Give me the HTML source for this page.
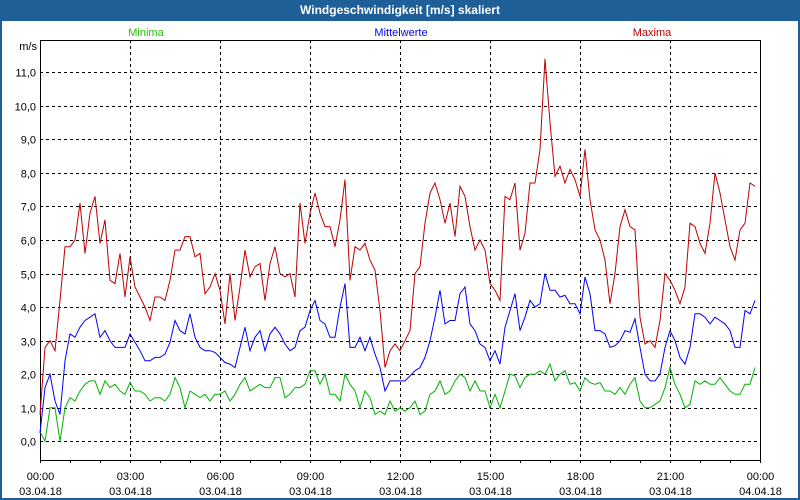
<!DOCTYPE html>
<html><head><meta charset="utf-8">
<style>
html,body{margin:0;padding:0;background:#fff;}
#wrap{position:relative;width:800px;height:500px;overflow:hidden;background:#fff;font-family:"Liberation Sans",sans-serif;}
#titlebar{position:absolute;left:0;top:0;width:800px;height:21px;background:#1f5f98;color:#fff;font-weight:bold;font-size:12px;line-height:21px;text-align:center;}
#frame{position:absolute;left:0;top:21px;width:796px;height:477px;border-left:2px solid #1f5f98;border-right:2px solid #1f5f98;border-bottom:2px solid #1f5f98;}
svg{position:absolute;left:0;top:0;}
</style></head><body>
<div id="wrap">
<div id="titlebar">Windgeschwindigkeit [m/s] skaliert</div>
<div id="frame"></div>
<svg id="chart" width="800" height="500"></svg>
</div>
<script>
const yTicks = [0,1,2,3,4,5,6,7,8,9,10,11];
const yTickLabels = ["0,0","1,0","2,0","3,0","4,0","5,0","6,0","7,0","8,0","9,0","10,0","11,0"];
const xTickHours = [0,3,6,9,12,15,18,21,24];
const xTickTimes = ["00:00","03:00","06:00","09:00","12:00","15:00","18:00","21:00","00:00"];
const xTickDates = ["03.04.18","03.04.18","03.04.18","03.04.18","03.04.18","03.04.18","03.04.18","03.04.18","04.04.18"];
const stepHours = 1/6;
const maxValues = [0.8,2.8,3.0,2.7,4.2,5.8,5.8,6.0,7.1,5.6,6.8,7.3,5.9,6.6,4.8,4.7,5.6,4.3,5.5,4.6,4.3,4.0,3.6,4.3,4.3,4.2,4.8,5.7,5.7,6.1,6.1,5.5,5.6,4.4,4.6,5.0,4.5,3.5,5.0,3.6,4.6,5.7,4.9,5.2,5.3,4.2,5.3,5.8,5.0,4.9,5.0,4.3,7.1,5.9,6.8,7.4,6.8,6.4,6.4,5.8,6.6,7.8,4.8,5.8,5.7,5.9,5.4,5.1,3.9,2.2,2.7,2.9,2.7,3.0,3.3,5.0,5.2,6.5,7.4,7.7,7.2,6.5,7.1,6.1,7.6,7.3,6.4,5.7,6.0,5.7,4.7,4.5,4.2,7.3,7.2,7.7,5.7,6.2,7.7,7.7,8.7,11.4,9.5,7.9,8.2,7.7,8.1,7.8,7.3,8.7,7.2,6.3,6.0,5.4,4.1,5.0,6.4,6.9,6.4,6.3,3.7,2.9,3.0,2.8,3.6,5.0,4.8,4.5,4.1,4.6,6.5,6.4,5.9,5.6,6.5,8.0,7.4,6.6,5.8,5.4,6.3,6.5,7.7,7.6];
const meanValues = [0.25,1.6,2.0,1.2,0.8,2.4,3.2,3.1,3.4,3.6,3.7,3.8,3.1,3.3,3.0,2.8,2.8,2.8,3.2,2.95,2.7,2.4,2.4,2.5,2.5,2.6,2.95,3.6,3.3,3.2,3.8,3.1,2.8,2.7,2.7,2.65,2.5,2.35,2.3,2.2,2.8,3.4,2.7,3.1,3.3,2.7,3.2,3.4,3.2,2.9,2.7,2.8,3.3,3.4,3.9,4.2,3.6,3.5,3.1,3.1,4.0,4.7,2.8,2.8,3.1,2.7,3.1,2.6,2.2,1.5,1.8,1.8,1.8,1.8,1.95,2.1,2.2,2.5,3.0,3.7,4.5,3.5,3.6,3.6,4.4,4.6,3.5,3.3,2.9,2.8,2.4,2.7,2.3,3.4,3.9,4.4,3.3,3.7,4.2,4.0,4.1,5.0,4.5,4.5,4.3,4.35,4.1,4.1,3.8,4.9,4.4,3.3,3.3,3.2,2.8,2.85,3.0,3.3,3.25,3.65,2.8,2.0,1.8,1.8,2.0,2.8,3.3,3.0,2.5,2.3,2.8,3.8,3.8,3.7,3.5,3.7,3.6,3.5,3.3,2.8,2.8,3.9,3.8,4.2];
const minValues = [0.3,0.0,1.0,1.0,0.0,1.0,1.3,1.2,1.5,1.7,1.8,1.8,1.4,1.8,1.6,1.7,1.5,1.4,1.75,1.5,1.5,1.4,1.2,1.3,1.3,1.2,1.4,1.9,1.6,1.0,1.5,1.4,1.3,1.4,1.2,1.4,1.4,1.5,1.2,1.4,1.7,1.9,1.5,1.6,1.7,1.6,1.6,1.9,1.9,1.3,1.4,1.6,1.6,1.7,2.1,2.1,1.7,2.0,1.4,1.4,1.2,2.0,1.7,1.5,1.0,1.5,1.3,0.8,0.9,0.8,1.2,0.9,1.0,0.9,1.0,1.2,0.8,0.9,1.4,1.5,1.8,1.4,1.5,1.8,2.0,1.9,1.5,1.8,1.5,1.5,1.0,1.4,1.0,1.5,2.0,1.95,1.6,1.9,2.0,2.0,2.1,2.0,2.3,1.8,2.0,2.1,1.7,1.75,1.5,1.9,1.75,1.7,1.75,1.5,1.5,1.4,1.6,1.4,1.7,1.9,1.2,1.0,1.0,1.1,1.2,1.6,2.2,1.7,1.4,1.0,1.1,1.8,1.7,1.8,1.7,1.7,1.9,1.7,1.5,1.4,1.4,1.7,1.7,2.2];

const NS = "http://www.w3.org/2000/svg";
const svg = document.getElementById('chart');
const PL = 40, PR = 760, PT = 40, PB = 460;
const Y0 = 441.3, YU = 33.55;
function xScale(h){ return PL + h * (PR - PL) / 24; }
function yScale(v){ return Y0 - v * YU; }
function mk(tag, attrs){ const e = document.createElementNS(NS, tag); for (const k in attrs) e.setAttribute(k, attrs[k]); svg.appendChild(e); return e; }

// horizontal grid + y labels
yTicks.forEach((v, i) => {
  const y = Math.round(yScale(v)) + 0.5;
  const g = mk('line', {x1: PL, x2: PR, y1: y, y2: y, stroke: '#000', 'stroke-width': 1, 'stroke-dasharray': '3,3'});
  
  
  const t = mk('text', {x: 36, y: y + 4, 'text-anchor': 'end', 'font-size': 11, fill: '#000'});
  t.textContent = yTickLabels[i];
  
  
});
// vertical grid + x labels
xTickHours.forEach((h, i) => {
  const x = Math.round(xScale(h)) + 0.5;
  if (h > 0 && h < 24) {
    const g = mk('line', {x1: x, x2: x, y1: PT, y2: PB, stroke: '#000', 'stroke-width': 1, 'stroke-dasharray': '3,3'});
    
    
  }
  const t1 = mk('text', {x: x, y: 480, 'text-anchor': 'middle', 'font-size': 11, fill: '#000'});
  t1.textContent = xTickTimes[i];
  
  
  const t2 = mk('text', {x: x, y: 495, 'text-anchor': 'middle', 'font-size': 11, fill: '#000'});
  t2.textContent = xTickDates[i];
  
  
});
// hourly minor ticks
for (let h = 0; h <= 24; h++) {
  const x = Math.round(xScale(h)) + 0.5;
  const tk = mk('line', {x1: x, x2: x, y1: PB, y2: PB + 3, stroke: '#000', 'stroke-width': 1});
  
  
}
// frame
const fr = mk('rect', {x: PL + 0.5, y: PT + 0.5, width: PR - PL, height: PB - PT, fill: 'none', stroke: '#000', 'stroke-width': 1});



function series(vals, color, name){
  const pts = vals.map((v, i) => xScale(i * stepHours).toFixed(1) + ',' + yScale(v).toFixed(1)).join(' ');
  const p = mk('polyline', {points: pts, fill: 'none', stroke: color, 'stroke-width': 1, 'stroke-linejoin': 'miter'});
  
  
}
series(minValues, '#00b400', 'minima-line');
series(meanValues, '#0000ff', 'mittelwerte-line');
series(maxValues, '#c00000', 'maxima-line');

// legend & unit
function label(x, y, txt, color, anchor, name){
  const t = mk('text', {x: x, y: y, 'text-anchor': anchor, 'font-size': 11, fill: color});
  t.textContent = txt;
  
  
}
label(146, 36, 'Minima', '#22c000', 'middle', 'legend-minima');
label(401, 36, 'Mittelwerte', '#0000ff', 'middle', 'legend-mittelwerte');
label(652, 36, 'Maxima', '#c00000', 'middle', 'legend-maxima');
label(37, 50, 'm/s', '#000', 'end', 'y-axis-unit');
</script>
</body></html>
